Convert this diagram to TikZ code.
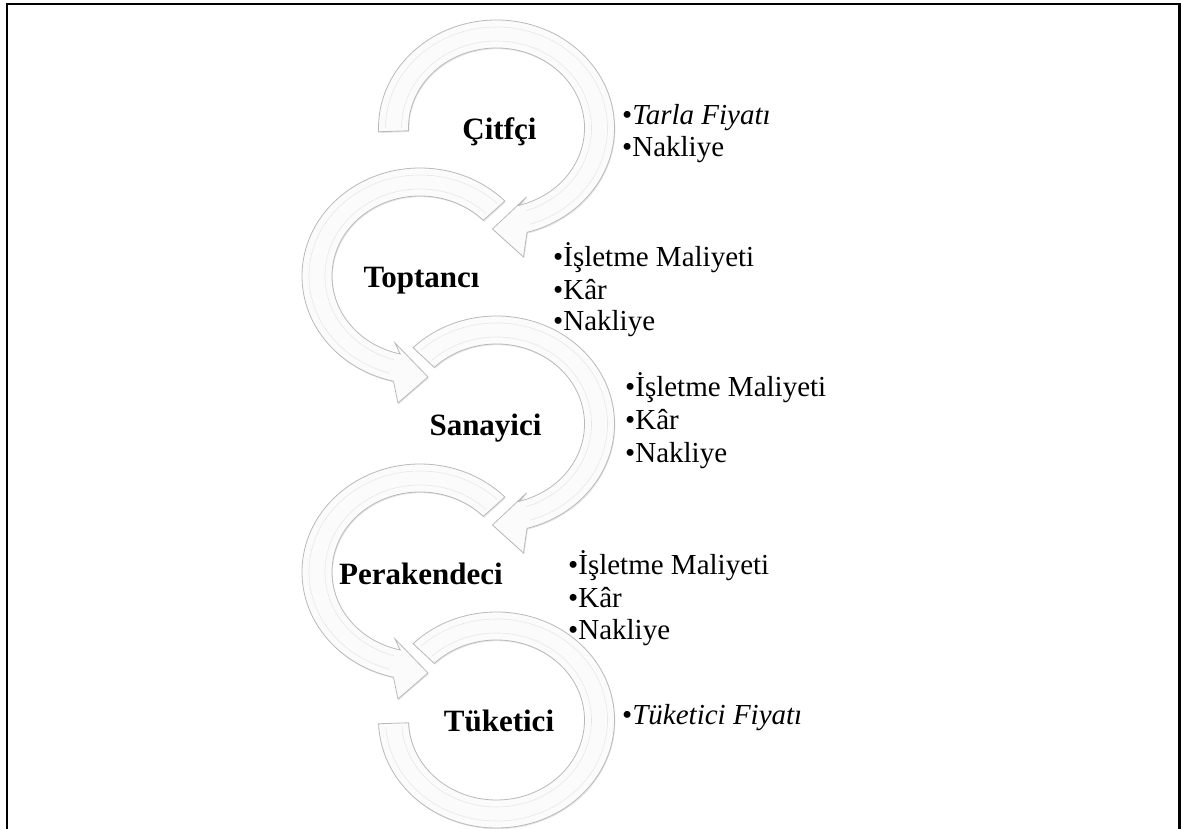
\documentclass[tikz,border=0pt]{standalone}
\usepackage{fontspec}
\setmainfont{Liberation Serif}
\usetikzlibrary{shadows}

\begin{document}
\begin{tikzpicture}[
    x=1pt, y=1pt,
    ring/.style={draw=gray!55, line width=0.8pt, fill=gray!3, drop shadow={shadow xshift=0.8pt, shadow yshift=-1.2pt, opacity=0.25, fill=gray!80}},
    bevel/.style={draw=gray!18, line width=0.6pt},
    lbl/.style={font=\fontsize{31}{36}\selectfont\bfseries, inner sep=0pt, anchor=base},
    item/.style={font=\fontsize{29}{33}\selectfont, inner sep=0pt, anchor=base west},
    frame/.style={draw=black, line width=2.5pt}
]
\useasboundingbox (0,0) rectangle (1181,829);

% Frame (open at the bottom)
\draw[frame] (7,0) -- (7,825) -- (1179.5,825) -- (1179.5,0);

% Ring centres
\coordinate (c1) at (496.5,701);
\coordinate (c2) at (420,553);
\coordinate (c3) at (496.5,405);
\coordinate (c4) at (420,257);
\coordinate (c5) at (496.5,109);

% Ring 2 and 4: counter-clockwise, head pointing right
\draw[ring, shift={(c2)}] (44:118 and 108) arc[start angle=44, end angle=257, x radius=118, y radius=108]
    -- (-22,-127) -- (8,-101) -- (-25,-67) -- (257:88 and 80)
    arc[start angle=257, end angle=44, x radius=88, y radius=80] -- cycle;
\draw[bevel, shift={(c2)}] (46:111 and 101) arc[start angle=46, end angle=254, x radius=111, y radius=101];
\draw[bevel, shift={(c2)}] (46:95 and 87) arc[start angle=46, end angle=254, x radius=95, y radius=87];

\draw[ring, shift={(c4)}] (44:118 and 108) arc[start angle=44, end angle=257, x radius=118, y radius=108]
    -- (-22,-127) -- (8,-101) -- (-25,-67) -- (257:88 and 80)
    arc[start angle=257, end angle=44, x radius=88, y radius=80] -- cycle;
\draw[bevel, shift={(c4)}] (46:111 and 101) arc[start angle=46, end angle=254, x radius=111, y radius=101];
\draw[bevel, shift={(c4)}] (46:95 and 87) arc[start angle=46, end angle=254, x radius=95, y radius=87];

% Ring 1 and 3: clockwise, head pointing left
\draw[ring, shift={(c1)}] (182:118 and 108) arc[start angle=182, end angle=-75, x radius=118, y radius=108]
    -- (27,-129) -- (-4,-101) -- (30,-69) -- (-75:88 and 80)
    arc[start angle=-75, end angle=182, x radius=88, y radius=80] -- cycle;
\draw[bevel, shift={(c1)}] (180:111 and 101) arc[start angle=180, end angle=-72, x radius=111, y radius=101];
\draw[bevel, shift={(c1)}] (180:95 and 87) arc[start angle=180, end angle=-72, x radius=95, y radius=87];

\draw[ring, shift={(c3)}] (135:118 and 108) arc[start angle=135, end angle=-75, x radius=118, y radius=108]
    -- (27,-129) -- (-4,-101) -- (30,-69) -- (-75:88 and 80)
    arc[start angle=-75, end angle=135, x radius=88, y radius=80] -- cycle;
\draw[bevel, shift={(c3)}] (133:111 and 101) arc[start angle=133, end angle=-72, x radius=111, y radius=101];
\draw[bevel, shift={(c3)}] (133:95 and 87) arc[start angle=133, end angle=-72, x radius=95, y radius=87];

% Ring 5: open ring, no head
\draw[ring, shift={(c5)}] (135:118 and 108) arc[start angle=135, end angle=-178, x radius=118, y radius=108]
    -- (-178:88 and 80)
    arc[start angle=-178, end angle=135, x radius=88, y radius=80] -- cycle;
\draw[bevel, shift={(c5)}] (133:111 and 101) arc[start angle=133, end angle=-176, x radius=111, y radius=101];
\draw[bevel, shift={(c5)}] (133:95 and 87) arc[start angle=133, end angle=-176, x radius=95, y radius=87];

% Stage labels
\node[lbl] (citfci) at (499.5,689) {Çitfçi};
\node[lbl] (toptanci) at (421.5,541) {Toptancı};
\node[lbl] (sanayici) at (485.5,393) {Sanayici};
\node[lbl] (perakendeci) at (421,244) {Perakendeci};
\node[lbl] (tuketici) at (499,97) {Tüketici};

% Cost items
\node[item] (fiyat1) at (622,704) {•\textit{Tarla Fiyatı}};
\node[item] (nakliye1) at (622,672) {•Nakliye};

\node[item] (isletme2) at (553,562) {•İşletme Maliyeti};
\node[item] (kar2) at (553,529) {•Kâr};
\node[item] (nakliye2) at (553,498) {•Nakliye};

\node[item] (isletme3) at (625,432) {•İşletme Maliyeti};
\node[item] (kar3) at (625,399) {•Kâr};
\node[item] (nakliye3) at (625,366) {•Nakliye};

\node[item] (isletme4) at (568,254) {•İşletme Maliyeti};
\node[item] (kar4) at (568,221) {•Kâr};
\node[item] (nakliye4) at (568,189) {•Nakliye};

\node[item] (fiyat5) at (622,104) {•\textit{Tüketici Fiyatı}};

\end{tikzpicture}
\end{document}
